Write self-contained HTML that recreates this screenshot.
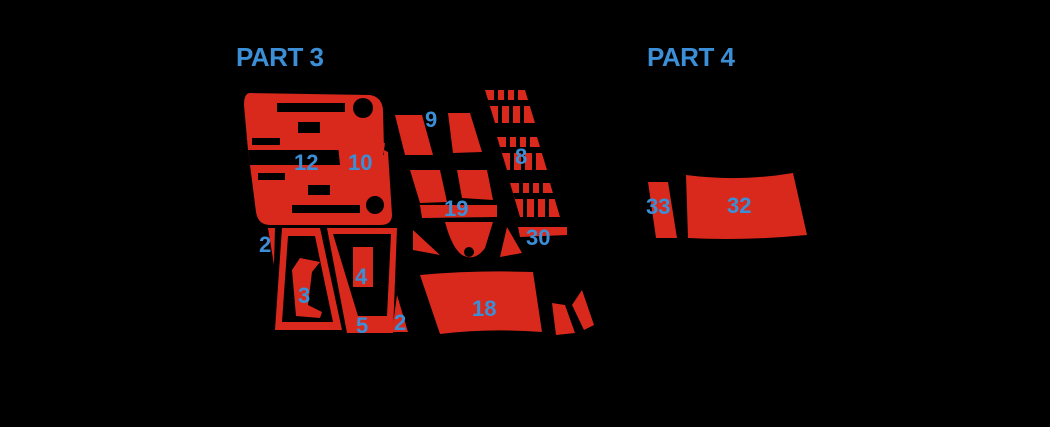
<!DOCTYPE html>
<html><head><style>
html,body{margin:0;padding:0;background:#000;width:1050px;height:427px;overflow:hidden}
svg{display:block}
text{font-family:"Liberation Sans",sans-serif;font-weight:bold;fill:#3c8fd6}
</style></head><body>
<svg width="1050" height="427" viewBox="0 0 1050 427">
<g fill="#d8291c">
<!-- 12 panel -->
<path d="M250,93 L370,95 Q382,97 383,110 L384,150 L388,152 L392,215 Q392,225 380,225 L270,225 Q258,225 256,212 L250,165 L248,150 L244,105 Q244,93 250,93Z"/>
<!-- 3 piece -->
<path d="M282,228 L320,228 L342,330 L275,330 Z"/>
<path d="M268,228 L275,228 L274,265 Z"/>
<!-- 4/5 piece -->
<path d="M327,228 L397,228 L393,333 L347,333 Z"/>
<path d="M397,295 L408,332 L392,332 Z"/>
<!-- 9 -->
<path d="M395,115 L422,115 L433,155 L405,155Z"/>
<path d="M448,113 L470,113 L482,152 L453,153Z"/>
<!-- 19 -->
<path d="M410,170 L440,170 L447,202 L420,203Z"/>
<path d="M457,170 L487,170 L493,200 L462,198Z"/>
<path d="M420,205 L497,205 L497,217 L422,218Z"/>
<path d="M413,230 L440,255 L413,250Z"/>
<path d="M445,222 L493,222 L485,248 Q475,262 462,255 Q452,248 445,222Z"/>
<path d="M507,227 L522,253 L500,257Z"/>
<!-- combs -->
<path d="M485,90 L525,90 L535,123 L495,123Z"/>
<path d="M497,137 L537,137 L547,170 L507,170Z"/>
<path d="M510,183 L550,183 L560,217 L520,217Z"/>
<!-- 30 -->
<path d="M518,227 L567,227 L567,235 L520,237Z"/>
<!-- 18 -->
<path d="M420,275 Q475,270 533,272 L542,332 Q490,328 440,334 Z"/>
<path d="M552,303 L565,305 L575,333 L556,335Z"/>
<path d="M582,290 L594,325 L584,330 L572,305Z"/>
<!-- part 4 -->
<path d="M648,182 L668,182 L677,238 L656,238Z"/>
<path d="M686,175 Q740,182 793,173 L807,235 Q745,241 688,238Z"/>
</g>
<g fill="#000">
<!-- 12 slots -->
<rect x="277" y="103" width="68" height="9"/>
<circle cx="363" cy="108" r="10"/>
<rect x="298" y="122" width="22" height="11"/>
<rect x="252" y="138" width="28" height="7"/>
<path d="M248,150 L384,150 L384,155 L340,156 L340,165 L250,165Z"/>
<rect x="258" y="173" width="27" height="7"/>
<rect x="308" y="185" width="22" height="10"/>
<rect x="292" y="205" width="68" height="8"/>
<circle cx="375" cy="205" r="9"/>
<!-- 3 inner -->
<path d="M288,236 L315,236 L333,322 L282,322Z"/>
<!-- 4 inner -->
<path d="M333,234 L391,234 L387,316 L358,316Z"/>
<!-- comb slots -->
<path d="M488,100 L531,100 L533,106 L490,106Z"/>
<path d="M500,147 L543,147 L545,153 L502,153Z"/>
<path d="M513,193 L556,193 L558,199 L515,199Z"/>
<rect x="494" y="90" width="4" height="10"/><rect x="504" y="90" width="4" height="10"/><rect x="514" y="90" width="4" height="10"/>
<rect x="498" y="106" width="4" height="17"/><rect x="509" y="106" width="4" height="17"/><rect x="520" y="106" width="4" height="17"/>
<rect x="506" y="137" width="4" height="10"/><rect x="516" y="137" width="4" height="10"/><rect x="526" y="137" width="4" height="10"/>
<rect x="510" y="153" width="4" height="17"/><rect x="521" y="153" width="4" height="17"/><rect x="532" y="153" width="4" height="17"/>
<rect x="519" y="183" width="4" height="10"/><rect x="529" y="183" width="4" height="10"/><rect x="539" y="183" width="4" height="10"/>
<rect x="523" y="199" width="4" height="18"/><rect x="534" y="199" width="4" height="18"/><rect x="545" y="199" width="4" height="18"/>
<circle cx="469" cy="252" r="5"/>
</g>
<g fill="#d8291c">
<path d="M338,145 L385,143 L382,165 L360,172 L340,165Z"/>
<path d="M300,258 L320,262 L312,272 L308,305 L322,312 L320,318 L296,316 L292,270Z"/>
<rect x="353" y="247" width="20" height="40"/>
</g>
<text x="236" y="66" font-size="26" textLength="88">PART 3</text>
<text x="647" y="66" font-size="26" textLength="88">PART 4</text>
<g font-size="22">
<text x="294" y="170">12</text>
<text x="348" y="170">10</text>
<text x="425" y="127">9</text>
<text x="515" y="164">8</text>
<text x="444" y="216">19</text>
<text x="526" y="245">30</text>
<text x="259" y="252">2</text>
<text x="355" y="284">4</text>
<text x="298" y="303">3</text>
<text x="356" y="333">5</text>
<text x="394" y="330">2</text>
<text x="472" y="316">18</text>
<text x="646" y="214">33</text>
<text x="727" y="213">32</text>
</g>
</svg>
</body></html>
